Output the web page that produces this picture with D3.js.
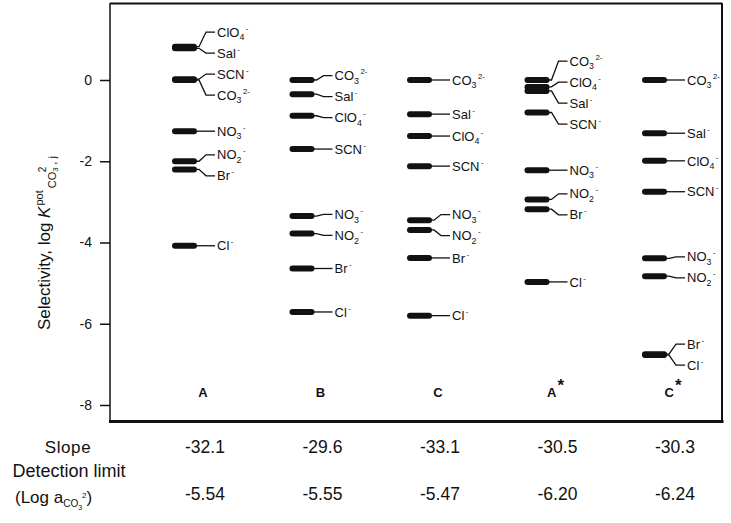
<!DOCTYPE html>
<html>
<head>
<meta charset="utf-8">
<script src="https://cdn.jsdelivr.net/npm/d3@7"></script>
<style>
  body { margin: 0; background: #fff; }
  svg { display: block; }
  text { font-family: "Liberation Sans", Arial, sans-serif; fill: #111; }
</style>
</head>
<body>
<svg id="chart" width="731" height="523"></svg>
<script>
// Membranes (columns) and interfering ions
const columns = ["A", "B", "C", "A*", "C*"];
const ions = ["CO3", "ClO4", "Sal", "SCN", "NO3", "NO2", "Br", "Cl"];
const ionLabels = ["CO_3^2-", "ClO_4^-", "Sal^-", "SCN^-", "NO_3^-", "NO_2^-", "Br^-", "Cl^-"];

// log K(pot) CO3,j per membrane, same order as ions
const selA  = [0.00, 0.82, 0.78, 0.02, -1.26, -2.00, -2.20, -4.08];
const selB  = [0.00, -0.88, -0.35, -1.70, -3.35, -3.78, -4.64, -5.71];
const selC  = [0.00, -1.38, -0.84, -2.12, -3.45, -3.69, -4.38, -5.80];
const selAs = [0.00, -0.17, -0.27, -0.80, -2.22, -2.94, -3.18, -4.97];
const selCs = [0.00, -1.99, -1.31, -2.75, -4.39, -4.83, -6.75, -6.77];
const selectivity = [selA, selB, selC, selAs, selCs];

const slopes = [-32.1, -29.6, -33.1, -30.5, -30.3];
const detectionLimits = [-5.54, -5.55, -5.47, -6.20, -6.24];
const yTicks = [0, -2, -4, -6, -8];

const svg = d3.select("#chart");

// Scales
const x = d3.scalePoint().domain(columns).range([172, 642]);
const y = d3.scaleLinear().domain([-8, 0]).range([405, 80]);

// Frame
const frame = svg.append("g").attr("stroke", "#111").attr("fill", "none");
frame.append("line").attr("x1", 110).attr("y1", 3).attr("x2", 110).attr("y2", 422).attr("stroke-width", 1.5);
frame.append("line").attr("x1", 110).attr("y1", 3.5).attr("x2", 722).attr("y2", 3.5).attr("stroke-width", 2);
frame.append("line").attr("x1", 722).attr("y1", 3).attr("x2", 722).attr("y2", 422).attr("stroke-width", 2);
frame.append("line").attr("x1", 109).attr("y1", 421.5).attr("x2", 723.5).attr("y2", 421.5).attr("stroke-width", 3);

// Y axis
const yAxis = svg.append("g")
  .attr("transform", "translate(110,0)")
  .call(d3.axisLeft(y).tickValues(yTicks).tickSize(10).tickPadding(8).tickFormat(d => String(d)));
yAxis.select(".domain").remove();
yAxis.selectAll(".tick line").attr("stroke", "#111").attr("stroke-width", 1.5);
yAxis.selectAll(".tick text")
  .attr("font-size", 14)
  .attr("font-family", "'Liberation Sans', Arial, sans-serif")
  .attr("fill", "#111");

// Axis title: Selectivity, log K^pot_(CO3^2-, j)
const title = svg.append("g").attr("transform", "translate(50,0) rotate(-90)")
  .append("text").attr("x", -330).attr("y", 0).attr("font-size", 17);
title.append("tspan").text("Selectivity, log ");
title.append("tspan").attr("font-style", "italic").text("K");
title.append("tspan").attr("dy", -7).attr("dx", 1).attr("font-size", 11).text("pot");
title.append("tspan").attr("dy", 13).attr("dx", 2).attr("font-size", 11).text("CO");
title.append("tspan").attr("dy", 2).attr("font-size", 8).text("3");
title.append("tspan").attr("dy", -12).attr("dx", -5).attr("font-size", 10).text("2");
title.append("tspan").attr("dy", 10).attr("dx", 2).attr("font-size", 11).text(", j");

// Chemical label: "CO_3^2-" -> CO, subscript 3, superscript 2-
function chem(sel, str, x0, cy, size) {
  const m = str.match(/^([^_^]+)(?:_([^_^]+))?(?:\^(.+))?$/);
  const base = cy + size * 0.36;
  const t = sel.append("text").attr("x", x0).attr("y", base).attr("font-size", size);
  t.append("tspan").text(m[1]);
  if (m[2]) t.append("tspan").attr("y", base + 3.5).attr("font-size", size * 0.68).text(m[2]);
  if (m[3]) t.append("tspan").attr("y", base - 6).attr("dx", 1.5).attr("font-size", size * 0.6).text(m[3]);
}

// Push overlapping labels apart, keeping each cluster centred on its bars
function spread(ys, gap) {
  let clusters = ys.map(v => ({ items: [v] }));
  const start = c => d3.mean(c.items, (v, k) => v - k * gap);
  let changed = true;
  while (changed) {
    changed = false;
    for (let i = 1; i < clusters.length; i++) {
      const a = clusters[i - 1], b = clusters[i];
      if (start(a) + a.items.length * gap > start(b)) {
        clusters.splice(i - 1, 2, { items: a.items.concat(b.items) });
        changed = true;
        break;
      }
    }
  }
  return clusters.flatMap(c => { const s = start(c); return c.items.map((_, k) => s + k * gap); });
}

// Bars, connectors and ion labels
columns.forEach((col, ci) => {
  const x0 = x(col);
  const items = ions.map((ion, i) => ({ ion, label: ionLabels[i], v: selectivity[ci][i], by: y(selectivity[ci][i]) }))
    .sort((a, b) => a.by - b.by);
  const ly = spread(items.map(d => d.by), 21);
  items.forEach((d, i) => d.ly = ly[i]);

  const g = svg.append("g");
  g.selectAll("path.link")
    .data(items).enter()
    .append("path")
    .attr("class", "link")
    .attr("fill", "none")
    .attr("stroke", "#111")
    .attr("stroke-width", 1.3)
    .attr("d", d => Math.abs(d.ly - d.by) < 0.5
      ? `M${x0 + 24},${d.by}H${x0 + 43}`
      : `M${x0 + 24},${d.by}H${x0 + 27}L${x0 + 34},${d.ly}H${x0 + 43}`);

  g.selectAll("rect")
    .data(items).enter()
    .append("rect")
    .attr("x", x0)
    .attr("y", d => d.by - 3)
    .attr("width", 25)
    .attr("height", 6)
    .attr("rx", 3)
    .attr("fill", "#111");

  items.forEach(d => chem(g, d.label, x0 + 45, d.ly, 13));

  // Column label
  const parts = col.split("*");
  const t = g.append("text")
    .attr("x", x0 + 31).attr("y", 397)
    .attr("text-anchor", "middle")
    .attr("font-size", 13).attr("font-weight", "bold");
  t.append("tspan").text(parts[0]);
  if (col.includes("*")) t.append("tspan").attr("dy", -6).attr("dx", 1).attr("font-size", 17).text("*");
});

// Table rows under the chart
const table = svg.append("g");
table.append("text").attr("x", 68).attr("y", 453).attr("text-anchor", "middle")
  .attr("font-size", 17).attr("letter-spacing", 0.6).text("Slope");
table.append("text").attr("x", 69).attr("y", 477).attr("text-anchor", "middle")
  .attr("font-family", "Roboto, sans-serif").attr("font-size", 18).text("Detection limit");
const loga = table.append("text").attr("x", 15).attr("y", 503)
  .attr("font-family", "Roboto, sans-serif").attr("font-size", 17);
loga.append("tspan").text("(Log a");
loga.append("tspan").attr("dy", 4).attr("font-size", 10).text("CO");
loga.append("tspan").attr("dy", 3).attr("font-size", 7).text("3");
loga.append("tspan").attr("dy", -12).attr("font-size", 8).text("2");
loga.append("tspan").attr("dy", 5).text(")");

table.selectAll("text.slope")
  .data(slopes).enter()
  .append("text")
  .attr("class", "slope")
  .attr("x", (d, i) => x(columns[i]) + 33)
  .attr("y", 453)
  .attr("text-anchor", "middle")
  .attr("font-size", 17.5)
  .text(d => d.toFixed(1));

table.selectAll("text.dl")
  .data(detectionLimits).enter()
  .append("text")
  .attr("class", "dl")
  .attr("x", (d, i) => x(columns[i]) + 33)
  .attr("y", 500)
  .attr("text-anchor", "middle")
  .attr("font-size", 17.5)
  .text(d => d.toFixed(2));
</script>
</body>
</html>
